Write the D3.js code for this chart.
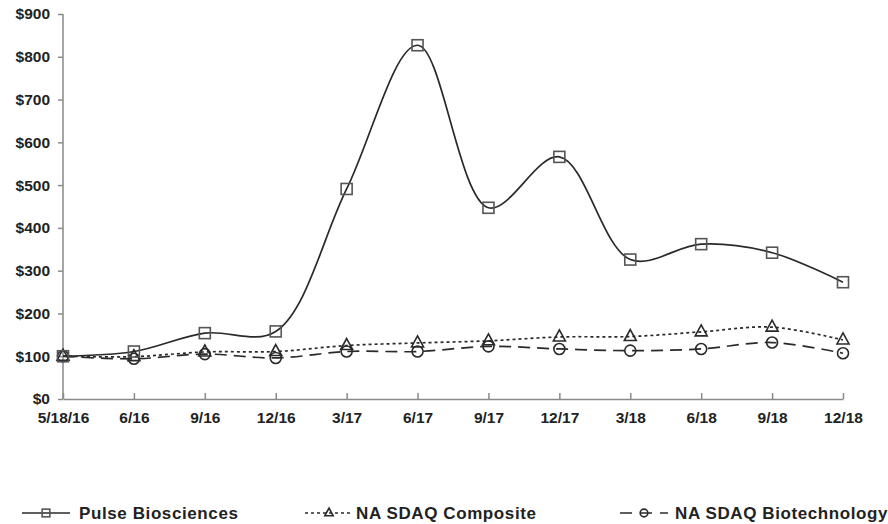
<!DOCTYPE html>
<html>
<head>
<meta charset="utf-8">
<script src="https://cdn.jsdelivr.net/npm/d3@7"></script>
<style>
  body { margin: 0; background: #fff; }
  text { font-family: "Liberation Sans", Arial, sans-serif; font-weight: bold; fill: #222; }
</style>
</head>
<body>
<div id="chart"></div>
<script>
// data
let periods = ["5/18/16", "6/16", "9/16", "12/16", "3/17", "6/17", "9/17", "12/17", "3/18", "6/18", "9/18", "12/18"];
let pulse = [100, 111, 154, 158, 491, 827, 447, 566, 326, 362, 342, 273];
let composite = [100, 99, 110, 111, 125, 131, 136, 145, 146, 157, 168, 138];
let biotech = [100, 94, 105, 96, 111, 111, 123, 117, 113, 117, 132, 107];
let yTicks = [0, 100, 200, 300, 400, 500, 600, 700, 800, 900];

let svg = d3.select("#chart")
    .append("svg")
    .attr("width", 888)
    .attr("height", 524);

let xScale = d3.scalePoint()
    .domain(periods)
    .range([63, 843]);

let yScale = d3.scaleLinear()
    .domain([0, 900])
    .range([399, 14]);

let axisColor = "#8a8a8a";
let ink = "#2a2a2a";

// y axis
let yAxis = svg.append("g")
    .attr("transform", "translate(63,0)")
    .call(d3.axisLeft(yScale).tickValues(yTicks).tickSize(5).tickPadding(8).tickFormat(d => "$" + d));
yAxis.select(".domain").attr("stroke", axisColor).attr("stroke-width", 1.5).attr("d", "M0,14V399");
yAxis.selectAll(".tick line").attr("stroke", axisColor).attr("stroke-width", 1.5);
yAxis.selectAll("text").style("font-size", "15.5px").attr("fill", "#222");

// x axis
let xAxis = svg.append("g")
    .attr("transform", "translate(0,399)")
    .call(d3.axisBottom(xScale).tickSizeInner(-6).tickSizeOuter(0).tickPadding(12));
xAxis.select(".domain").attr("stroke", axisColor).attr("stroke-width", 1.5);
xAxis.selectAll(".tick line").attr("stroke", axisColor).attr("stroke-width", 1.5);
xAxis.selectAll("text").style("font-size", "15.5px").attr("fill", "#222").attr("dy", "0.75em");

let series = [
    {name: "Pulse Biosciences", values: pulse, dash: null, marker: "square"},
    {name: "NA SDAQ Composite", values: composite, dash: "3,3", marker: "triangle"},
    {name: "NA SDAQ Biotechnology", values: biotech, dash: "12,7", marker: "circle"}
];

let line = d3.line()
    .x((d, i) => xScale(periods[i]))
    .y(d => yScale(d))
    .curve(d3.curveCatmullRom.alpha(0.5));

function drawMarker(g, type, x, y, s) {
    if (type == "square") {
        g.append("rect")
            .attr("x", x - 5.5 * s).attr("y", y - 5.5 * s)
            .attr("width", 11 * s).attr("height", 11 * s)
            .attr("fill", "#fff").attr("fill-opacity", 0).attr("stroke", "#555").attr("stroke-width", 1.6);
    } else if (type == "triangle") {
        g.append("path")
            .attr("d", "M" + x + "," + (y - 7 * s) + "L" + (x + 6 * s) + "," + (y + 4 * s) + "L" + (x - 6 * s) + "," + (y + 4 * s) + "Z")
            .attr("fill", "none").attr("stroke", ink).attr("stroke-width", 1.6);
    } else {
        g.append("circle")
            .attr("cx", x).attr("cy", y).attr("r", 5.5 * s)
            .attr("fill", "none").attr("stroke", ink).attr("stroke-width", 1.6);
    }
}

// draw back to front so Pulse sits on top
series.slice().reverse().forEach(function(s) {
    svg.append("path")
        .datum(s.values)
        .attr("fill", "none")
        .attr("stroke", ink)
        .attr("stroke-width", 1.7)
        .attr("stroke-dasharray", s.dash)
        .attr("d", line);
    let g = svg.append("g");
    s.values.forEach(function(v, i) {
        drawMarker(g, s.marker, xScale(periods[i]), yScale(v), 1);
    });
});

// legend
let legendX = [22, 305, 620];
let legendText = [79, 356, 675];
let legendDash = [null, "3,3", "12,8"];
series.forEach(function(s, i) {
    let lg = svg.append("g").attr("transform", "translate(0,513)");
    lg.append("line")
        .attr("x1", legendX[i]).attr("x2", legendX[i] + 48)
        .attr("y1", 0).attr("y2", 0)
        .attr("stroke", ink).attr("stroke-width", 1.7)
        .attr("stroke-dasharray", legendDash[i]);
    drawMarker(lg, s.marker, legendX[i] + 24, 0, 0.7);
    lg.append("text")
        .attr("x", legendText[i])
        .attr("y", 0)
        .attr("dy", "0.36em")
        .style("font-size", "17px")
        .style("letter-spacing", "0.6px")
        .text(s.name);
});
</script>
</body>
</html>
